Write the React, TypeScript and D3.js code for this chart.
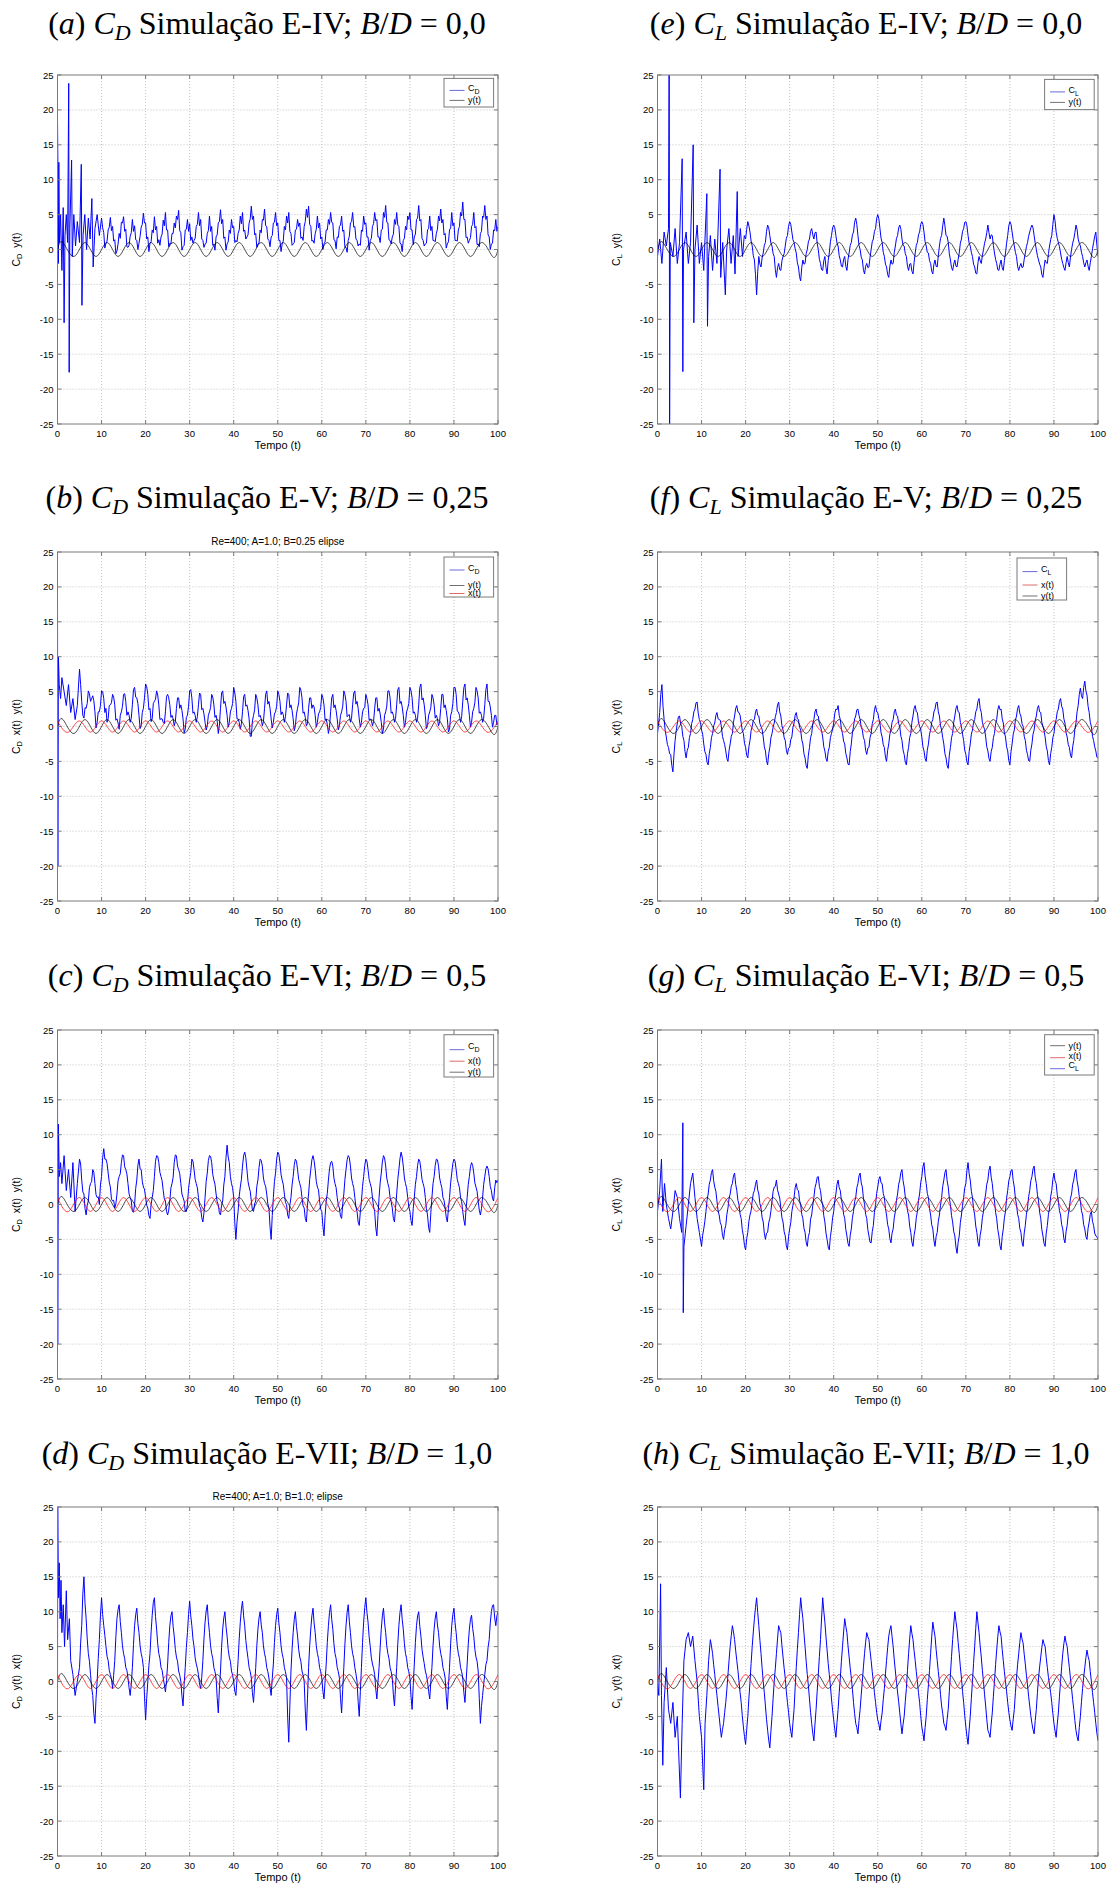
import React from 'react';
import * as d3 from 'd3';

// ---------------- DATA ----------------
const xTickValues = [0, 10, 20, 30, 40, 50, 60, 70, 80, 90, 100];
const yTickValues = [-25, -20, -15, -10, -5, 0, 5, 10, 15, 20, 25];

// motion extrema (read from the sinusoids)
const yMotionT = [0, 1.25, 3.75, 6.25, 8.75, 11.25, 13.75, 16.25, 18.75, 21.25, 23.75, 26.25, 28.75, 31.25, 33.75, 36.25, 38.75, 41.25, 43.75, 46.25, 48.75, 51.25, 53.75, 56.25, 58.75, 61.25, 63.75, 66.25, 68.75, 71.25, 73.75, 76.25, 78.75, 81.25, 83.75, 86.25, 88.75, 91.25, 93.75, 96.25, 98.75, 100];
const yMotion = [0, 1, -1, 1, -1, 1, -1, 1, -1, 1, -1, 1, -1, 1, -1, 1, -1, 1, -1, 1, -1, 1, -1, 1, -1, 1, -1, 1, -1, 1, -1, 1, -1, 1, -1, 1, -1, 1, -1, 1, -1, 0];
const xMotionT = [0, 2.5, 5, 7.5, 10, 12.5, 15, 17.5, 20, 22.5, 25, 27.5, 30, 32.5, 35, 37.5, 40, 42.5, 45, 47.5, 50, 52.5, 55, 57.5, 60, 62.5, 65, 67.5, 70, 72.5, 75, 77.5, 80, 82.5, 85, 87.5, 90, 92.5, 95, 97.5, 100];
const xMotionSmall = [0.8, -0.8, 0.8, -0.8, 0.8, -0.8, 0.8, -0.8, 0.8, -0.8, 0.8, -0.8, 0.8, -0.8, 0.8, -0.8, 0.8, -0.8, 0.8, -0.8, 0.8, -0.8, 0.8, -0.8, 0.8, -0.8, 0.8, -0.8, 0.8, -0.8, 0.8, -0.8, 0.8, -0.8, 0.8, -0.8, 0.8, -0.8, 0.8, -0.8, 0.8];
const xMotionLarge = [1, -1, 1, -1, 1, -1, 1, -1, 1, -1, 1, -1, 1, -1, 1, -1, 1, -1, 1, -1, 1, -1, 1, -1, 1, -1, 1, -1, 1, -1, 1, -1, 1, -1, 1, -1, 1, -1, 1, -1, 1];

// (a) C_D E-IV  (samples every 0.25 from t = 10)
const cdATransient = [[0, 18.5], [0.1, 11], [0.2, -2], [0.3, 12.5], [0.45, 1], [0.7, 5], [1, -3], [1.3, 6], [1.5, -10.5], [1.7, 2], [2, 5], [2.3, 1], [2.55, 23.8], [2.65, -17.6], [2.8, 3], [3.2, 12.8], [3.35, -1], [3.7, 5], [4.1, 0.5], [4.5, 4], [5, 1], [5.4, 12.2], [5.55, -8], [5.8, 2], [6.2, 5], [6.6, 0], [7, 4.5], [7.4, 1.5], [7.8, 7.3], [8.1, -2.5], [8.5, 3], [9, 5], [9.5, 2]];
const cdAStart = 10;
const cdA = [
  4.5, 3.1, 2.4, 0.2, 0.9, 1.2, 2.8, 3.2, 4.6, 2.7, 3.3, 1.2, 1.4, -0.6, -0.2, 0.8, 2.3, 1.6, 3.9, 3.8,
  4.7, 2.6, 2.9, 0.4, 0.3, 0.6, 1.9, 2.4, 4.3, 2.6, 3.4, 1.4, 1.3, 0.0, 0.9, 1.9, 3.2, 3.6, 5.2, 3.8,
  3.8, 1.5, 1.8, -0.3, 0.9, 1.1, 2.8, 2.4, 4.7, 2.8, 3.3, 0.9, 1.4, 0.6, 1.8, 2.2, 4.2, 3.4, 5.3, 2.8,
  2.8, 0.4, 0.9, 0.8, 2.3, 2.3, 3.8, 3.1, 4.8, 4.3, 5.6, 2.7, 2.4, -0.1, 0.4, 0.6, 2.8, 2.9, 4.3, 2.6,
  3.7, 1.3, 1.8, 0.9, 1.3, 1.6, 3.3, 3.6, 5.3, 3.4, 4.3, 1.5, 1.3, 0.3, 0.8, 0.9, 2.3, 2.7, 4.8, 2.6,
  3.3, 0.6, 0.8, -0.1, 1.8, 2.1, 3.8, 4.0, 5.7, 3.7, 4.3, 1.6, 1.8, -0.1, 0.8, 1.1, 2.8, 2.3, 4.3, 3.1,
  3.3, 1.0, 1.3, 1.1, 2.3, 2.8, 4.8, 3.7, 5.3, 2.6, 2.8, 1.5, 1.8, 2.1, 3.8, 4.4, 6.2, 4.3, 4.8, 2.1,
  2.3, 0.3, 0.8, 0.9, 2.8, 2.4, 4.3, 4.2, 5.8, 3.4, 3.3, 1.5, 1.3, 0.4, 1.8, 2.0, 3.8, 3.9, 5.3, 3.4,
  3.8, 1.3, 1.3, -0.3, 0.8, 1.2, 3.3, 2.8, 4.8, 3.8, 5.3, 2.6, 2.3, 0.6, 0.8, 1.0, 2.8, 2.9, 4.3, 3.3,
  3.8, 1.6, 1.8, 1.3, 3.3, 4.0, 5.8, 4.6, 6.2, 3.6, 3.3, 1.2, 1.3, 0.9, 2.3, 2.9, 4.8, 3.1, 3.8, 1.5,
  1.8, 0.0, 0.8, 1.1, 2.8, 2.8, 4.3, 3.6, 5.3, 3.9, 3.8, 1.4, 1.3, 0.1, 1.8, 1.7, 3.3, 3.5, 4.8, 2.6,
  2.8, 0.3, 0.3, -0.4, 1.3, 1.9, 3.8, 4.0, 5.3, 3.2, 3.3, 1.5, 1.3, 0.5, 0.8, 0.6, 2.8, 2.6, 4.8, 3.6,
  3.8, 1.8, 1.8, -0.1, 1.3, 1.6, 3.3, 3.7, 5.3, 4.1, 4.3, 1.8, 1.8, 1.0, 2.8, 2.9, 5.3, 4.6, 6.3, 3.9,
  3.8, 1.4, 1.3, 0.8, 1.8, 2.2, 4.3, 3.6, 5.3, 3.5, 3.3, 0.9, 0.8, -0.3, 1.3, 1.6, 3.3, 2.8, 4.8, 4.3,
  5.3, 2.8, 2.8, 0.7, 1.8, 2.2, 4.3, 4.5, 6.3, 4.1, 4.3, 1.6, 1.3, 0.5, 0.8, 0.9, 2.8, 3.0, 4.8, 2.7,
  3.3, 1.3, 1.3, 1.1, 2.3, 2.9, 4.8, 4.1, 5.8, 3.8, 4.3, 2.1, 2.3, 0.2, 0.8, 1.1, 2.8, 3.1, 5.3, 3.4,
  3.8, 1.3, 1.3, 1.2, 2.8, 3.3, 5.3, 4.8, 6.8, 4.3, 4.3, 1.7, 1.8, 0.9, 1.3, 1.7, 3.3, 3.6, 5.3, 3.1,
  3.3, 0.7, 0.8, 0.4, 2.3, 2.6, 4.8, 4.6, 6.3, 4.3, 4.8, 2.1, 1.8, 0.0, 0.8, 0.9, 2.8, 2.7, 4.3, 2.6,
  3.3];

// (b) C_D E-V (samples every 0.25 from t = 5)
const cdBTransient = [[0, 18.5], [0.08, -20], [0.2, 10], [0.4, 6], [0.7, 4], [1, 7], [1.5, 5], [2, 3], [2.5, 6], [3, 2], [3.5, 4], [4, 1], [4.5, 3]];
const cdBStart = 5;
const cdB = [
  8.2, 6.0, 3.6, 1.6, 1.2, 2.7, 2.6, 3.3, 5.1, 4.7, 3.6, 4.0, 4.4, 3.7, 2.1, -0.2, 0.6, 2.1, 2.1, 3.0,
  5.1, 5.0, 4.0, 2.0, 2.6, 0.6, 1.1, 3.0, 3.1, 3.4, 4.6, 4.2, 3.1, 0.9, 1.1, 0.5, -0.4, 1.6, 2.1, 2.9,
  4.6, 4.7, 3.6, 1.6, 2.1, 1.6, 0.6, 1.2, 3.1, 5.3, 5.6, 4.2, 4.1, 3.3, 1.6, -0.3, 0.1, 2.0, 2.6, 4.1,
  6.1, 5.7, 4.6, 2.4, 2.6, 0.7, 1.1, 3.3, 3.6, 3.9, 5.1, 4.5, 3.1, 1.0, 1.1, 1.1, 0.6, 0.4, 2.1, 4.3,
  4.6, 4.1, 3.1, 1.3, 1.6, 1.1, 0.1, 0.7, 2.6, 4.1, 4.1, 2.6, 3.1, 2.3, 1.1, -0.9, -0.4, 1.3, 1.6, 2.9,
  5.1, 5.3, 4.1, 1.9, 2.1, 1.6, 0.6, 1.4, 3.1, 4.8, 4.6, 2.4, 2.6, 1.8, 0.6, -0.5, 0.1, 1.6, 2.1, 2.7,
  4.6, 4.2, 3.1, 1.3, 1.6, 0.8, -1.0, 0.2, 2.6, 4.8, 5.1, 3.3, 3.6, 2.8, 1.6, -0.1, 0.6, 2.1, 2.6, 3.3,
  5.6, 4.8, 3.6, 1.1, 1.1, 0.6, -0.4, 0.4, 2.1, 4.3, 4.6, 2.9, 3.1, 2.3, 1.1, -1.4, -1.4, 0.8, 1.6, 2.4,
  4.6, 4.1, 3.1, 1.4, 1.6, 1.1, 0.1, 0.7, 2.6, 4.6, 5.1, 3.2, 3.6, 2.6, 1.1, -0.2, 0.6, 1.8, 2.1, 2.9,
  5.1, 4.6, 3.6, 1.7, 2.1, 1.7, 0.6, 1.4, 3.1, 4.8, 4.6, 2.7, 3.1, 2.3, 1.1, -0.6, 0.1, 1.8, 2.6, 3.4,
  5.6, 5.2, 4.1, 1.9, 2.1, 1.3, 0.1, 0.4, 2.6, 4.1, 4.1, 2.6, 3.1, 2.8, 1.6, -0.1, 0.6, 1.8, 2.1, 2.7,
  4.6, 4.1, 3.1, 0.9, 1.1, 0.3, -1.0, -0.1, 2.1, 4.1, 4.6, 2.7, 3.1, 2.3, 1.1, -0.5, 0.1, 1.6, 2.1, 2.9,
  5.1, 4.6, 3.6, 1.4, 1.6, 1.7, 0.6, 1.2, 3.1, 4.8, 5.1, 3.2, 3.6, 2.6, 1.1, -0.1, 0.6, 2.1, 2.6, 2.7,
  4.6, 4.0, 3.1, 0.9, 1.1, 0.9, 0.1, 0.7, 2.6, 4.1, 4.1, 2.2, 2.6, 1.8, 0.6, -1.0, -0.4, 1.6, 2.1, 2.9,
  5.1, 5.1, 4.1, 1.9, 2.1, 1.6, 0.6, 1.2, 3.1, 5.3, 5.6, 3.3, 3.6, 2.8, 1.6, -0.1, 0.6, 2.1, 2.6, 3.3,
  5.6, 5.1, 4.1, 1.9, 2.1, 1.6, 0.6, 1.2, 3.1, 5.6, 6.1, 3.8, 4.1, 3.1, 1.6, -0.3, 0.1, 1.6, 2.1, 2.7,
  4.6, 4.1, 3.1, 1.2, 1.6, 1.1, 0.1, 0.7, 2.6, 4.6, 4.6, 2.7, 3.1, 2.3, 1.1, -0.8, -0.4, 1.6, 2.1, 3.3,
  5.6, 5.6, 4.6, 2.2, 2.1, 1.6, 0.6, 1.4, 3.6, 5.6, 6.1, 3.8, 4.1, 3.1, 1.6, -0.1, 0.6, 2.1, 2.6, 3.4,
  5.6, 5.1, 4.1, 1.9, 2.1, 1.6, 0.6, 1.2, 3.1, 5.3, 6.1, 3.6, 3.6, 2.8, 1.6, -0.1, 0.6, 1.6, 1.6, 0.2,
  0.6];

// (c) C_D E-VI (samples every 0.25 from t = 5)
const cdCTransient = [[0, 23], [0.05, -20], [0.2, 11.5], [0.4, 4], [0.7, 6], [1, 3], [1.5, 7], [2, 2], [2.5, 5], [3, 1], [3.5, 6], [4, -1], [4.5, 3]];
const cdCStart = 5;
const cdC = [
  6.5, 5.8, 3.5, 1.8, 1.5, -0.6, -1.5, -0.1, 0.5, 2.4, 3.0, 3.3, 5.0, 4.6, 3.0, 1.4, 1.0, 1.1, 0.0, 2.8,
  4.0, 6.7, 8.0, 6.5, 6.5, 5.9, 4.5, 3.2, 2.5, 0.8, 0.5, 0.6, -0.5, 0.1, 1.5, 3.4, 4.0, 4.4, 6.0, 7.1,
  7.0, 5.4, 5.0, 4.4, 3.0, 1.5, 1.0, 0.5, -1.0, -1.1, 0.0, 2.3, 3.5, 5.6, 6.5, 5.1, 5.0, 3.3, 2.5, 2.2,
  1.0, -0.1, -0.5, -1.6, -2.0, 0.0, 1.0, 2.0, 4.0, 6.2, 7.0, 6.9, 6.0, 4.6, 4.0, 3.4, 2.0, 0.8, 0.5, -1.0,
  -1.5, -0.8, 0.5, 2.4, 3.0, 3.9, 6.0, 7.1, 7.0, 5.5, 5.0, 4.4, 3.0, 1.5, 1.0, 0.5, -1.0, -1.0, 0.0, 2.3,
  3.5, 4.6, 6.5, 6.2, 5.0, 3.6, 3.0, 2.4, 1.0, -0.3, -0.5, -1.9, -2.5, -1.2, 1.0, 3.3, 4.5, 6.3, 7.0, 6.9,
  6.0, 4.3, 3.5, 2.9, 1.5, 0.4, 0.0, -1.2, -1.5, -0.1, 0.5, 2.8, 4.0, 6.7, 8.5, 6.8, 6.0, 4.0, 3.0, 2.4,
  1.0, -2.6, -5.0, -2.5, -1.0, 1.2, 2.5, 3.6, 5.5, 7.0, 7.5, 6.7, 5.0, 3.3, 2.5, 1.9, 0.5, -0.8, -1.0, 0.1,
  0.5, 2.6, 3.5, 5.3, 6.5, 6.3, 5.5, 3.8, 3.0, 2.6, 1.5, 0.1, -0.5, -3.2, -5.0, -1.6, 1.0, 3.3, 4.5, 6.5,
  7.5, 7.2, 6.0, 4.3, 3.5, 2.9, 1.5, 0.3, 0.0, -1.5, -2.0, -0.1, 1.0, 2.8, 4.0, 5.7, 6.5, 6.2, 5.0, 3.6,
  3.0, 2.4, 1.0, -0.2, -0.5, -2.0, -2.5, -0.1, 1.5, 3.6, 5.0, 6.4, 7.0, 6.3, 5.0, 3.3, 2.5, 2.1, 0.5, -0.7,
  -1.0, -3.1, -4.5, -1.6, 0.5, 1.6, 3.5, 5.1, 6.0, 6.2, 5.5, 3.8, 3.0, 2.4, 1.0, -0.1, -0.5, -1.7, -2.0, 0.1,
  1.5, 3.6, 5.0, 6.4, 7.0, 6.7, 5.5, 3.8, 3.0, 2.4, 1.0, -0.4, -1.0, -2.5, -3.0, -1.0, 0.5, 2.6, 4.0, 5.6,
  6.5, 6.2, 5.0, 3.6, 3.0, 2.4, 1.0, -0.3, -1.0, -3.3, -4.5, -1.6, 1.0, 3.1, 4.5, 6.1, 7.0, 6.7, 5.5, 3.8,
  3.0, 2.4, 1.0, 0.4, -0.5, -2.0, -2.5, -0.4, 1.5, 3.6, 5.0, 6.6, 7.5, 6.8, 5.5, 3.8, 3.0, 2.4, 1.0, -0.3,
  -1.0, -2.3, -3.0, -0.6, 1.0, 2.9, 4.0, 5.6, 6.5, 6.2, 5.0, 3.6, 3.0, 2.4, 1.0, -0.6, -1.5, -3.3, -4.0, -1.2,
  1.0, 3.0, 4.0, 5.6, 6.5, 6.4, 5.5, 3.8, 3.0, 2.4, 1.0, 0.6, -0.5, -1.8, -2.5, -0.6, 1.0, 3.1, 4.5, 5.9,
  6.5, 6.2, 5.0, 3.6, 3.0, 2.4, 1.0, 0.4, -1.0, -2.2, -3.0, -0.6, 1.0, 2.9, 4.0, 5.4, 6.0, 5.6, 4.5, 3.1,
  2.5, 1.9, 0.5, -0.8, -1.5, -0.6, 1.0, 2.9, 4.0, 5.1, 5.5, 5.1, 4.0, 2.6, 2.0, 0.9, 0.5, 2.4, 3.5, 3.1,
  3.5];

// (d) C_D E-VII (samples every 0.25 from t = 5)
const cdDTransient = [[0, 0], [0.05, 25], [0.2, 12], [0.4, 17], [0.6, 9], [0.8, 14.5], [1, 7], [1.3, 11], [1.6, 5], [2, 13], [2.3, 6], [2.7, 9], [3, 3], [3.5, 1], [4, -2], [4.5, 0]];
const cdDStart = 5;
const cdD = [
  2.0, 5.5, 8.0, 12.6, 15.0, 11.2, 9.0, 6.1, 4.0, 2.9, 1.0, -0.9, -2.0, -4.6, -6.0, -2.4, 0.0, 3.3, 6.0, 9.4,
  12.0, 9.6, 8.0, 6.6, 5.0, 3.6, 3.0, 1.6, 1.0, 0.4, -1.0, 0.9, 3.0, 6.4, 9.0, 10.3, 11.0, 8.6, 7.0, 5.1,
  4.0, 3.3, 2.0, 1.6, 0.5, -0.9, -2.0, -0.4, 2.0, 5.3, 8.0, 9.6, 10.5, 8.3, 7.0, 5.1, 4.0, 3.3, 2.0, -2.1,
  -5.5, -2.4, 0.0, 2.3, 4.0, 7.1, 9.5, 11.3, 12.0, 9.3, 7.5, 5.4, 4.0, 3.3, 2.0, 1.6, 0.5, -0.4, -1.5, 0.1,
  2.5, 5.6, 8.0, 9.4, 10.0, 7.9, 6.5, 4.6, 3.5, 2.9, 1.5, 0.9, 0.0, -2.1, -3.5, -0.4, 2.0, 4.9, 7.0, 9.6,
  11.5, 9.4, 8.0, 6.1, 5.0, 3.4, 2.5, 1.9, 1.0, -0.4, -1.0, 0.6, 3.0, 6.1, 8.5, 10.1, 11.0, 8.6, 7.0, 5.1,
  4.0, 3.3, 2.0, 1.4, 0.5, -2.3, -4.5, -1.1, 1.5, 4.9, 7.5, 9.1, 10.0, 7.9, 6.5, 4.6, 3.5, 2.9, 1.5, 0.9,
  0.0, -1.4, -2.0, 0.4, 3.0, 6.1, 8.5, 10.4, 11.5, 9.4, 8.0, 5.9, 4.5, 3.3, 2.0, 1.4, 0.5, -1.6, -3.0, -0.6,
  2.0, 5.1, 7.5, 9.1, 10.0, 8.1, 7.0, 5.1, 4.0, 3.3, 2.0, 1.4, 0.5, -0.9, -2.0, 0.4, 2.5, 5.6, 8.0, 9.6,
  10.5, 8.4, 7.0, 5.1, 4.0, 3.3, 2.0, 1.4, 0.5, -5.1, -8.7, -3.4, 1.5, 4.6, 7.0, 8.9, 10.0, 7.9, 6.5, 4.6,
  3.5, 2.9, 1.5, 0.9, 0.0, -4.1, -7.0, -2.4, 2.0, 5.1, 7.5, 9.4, 10.5, 8.4, 7.0, 5.1, 4.0, 3.3, 2.0, 1.4,
  0.5, -1.4, -2.5, 0.1, 2.5, 5.6, 8.0, 9.9, 11.0, 8.9, 7.5, 5.4, 4.0, 3.3, 2.0, 1.4, 0.5, -2.4, -4.5, -1.1,
  2.0, 5.4, 8.0, 9.9, 11.0, 8.6, 7.0, 5.1, 4.0, 3.3, 2.0, 1.1, 0.0, -2.9, -5.0, -1.4, 2.0, 5.6, 8.5, 10.6,
  12.0, 9.9, 8.5, 6.4, 5.0, 3.4, 2.5, 1.9, 1.0, -1.1, -2.5, -0.1, 2.0, 4.9, 7.5, 9.4, 10.5, 8.4, 7.0, 5.1,
  4.0, 3.3, 2.0, 1.4, 0.5, -1.9, -3.5, -0.6, 2.0, 5.4, 8.0, 9.9, 11.0, 8.9, 7.5, 5.4, 4.0, 3.3, 2.0, 1.4,
  0.5, -2.1, -4.0, -0.6, 2.5, 5.6, 8.0, 9.4, 10.0, 7.9, 6.5, 4.6, 3.5, 2.6, 1.5, 0.9, 0.0, -1.4, -2.5, -0.1,
  2.0, 5.1, 7.5, 9.1, 10.0, 8.1, 7.0, 5.1, 4.0, 3.3, 2.0, 1.4, 0.5, -2.1, -4.0, -0.6, 2.0, 5.4, 8.0, 9.6,
  10.5, 8.4, 7.0, 5.1, 4.0, 3.3, 2.0, 1.4, 0.5, -1.6, -3.0, -0.1, 2.5, 5.4, 7.5, 8.9, 9.5, 7.6, 6.5, 4.6,
  3.5, 2.9, 1.5, -2.4, -6.0, -3.6, -2.0, -0.4, 1.0, 2.4, 3.0, 4.9, 6.0, 8.4, 10.0, 10.9, 11.0, 9.1, 8.0, 9.4,
  10.0];

// (e) C_L E-IV (samples every 0.25 from t = 20)
const clETransient = [[0, -1], [0.5, 1.5], [1, -2], [1.5, 2.5], [2, 0.5], [2.5, 3], [2.65, 30], [2.75, -25], [2.9, 1], [3.5, -1], [4, 3], [4.5, -2], [5, 1], [5.6, 13], [5.75, -17.5], [5.9, 0], [6.5, 2.5], [7, -2], [7.5, 1], [8.1, 15], [8.25, -10.5], [8.5, 0], [9, 3.5], [9.5, -2], [10, 1], [10.5, -3], [11.2, 8], [11.35, -11], [11.6, -1], [12, 2], [12.5, -3], [13, 1.5], [13.5, -2], [14.2, 11.5], [14.35, -4], [14.8, 1], [15.4, -6.5], [15.7, 0], [16.2, 3], [16.7, -2], [17.2, 2], [17.6, -3.5], [18.1, 8.3], [18.3, -1], [18.8, 3], [19.3, -1], [19.7, 2]];
const clEStart = 20;
const clE = [
  1.5, 2.9, 4.0, 3.4, 2.5, 1.2, 0.5, -0.9, -1.5, -3.6, -6.5, -3.2, -1.0, -2.1, -2.5, -1.2, -0.5, 0.6, 1.0, 2.6,
  3.5, 3.1, 2.0, 0.9, 0.5, -0.6, -1.0, -2.9, -4.0, -2.6, -2.0, -2.9, -3.0, -1.6, -1.0, -0.6, 0.5, 1.6, 2.0, 3.3,
  4.0, 3.6, 2.5, 1.4, 1.0, 0.1, -0.5, -1.9, -2.5, -3.9, -4.5, -2.6, -1.5, -2.1, -2.0, -0.6, 0.0, 1.1, 1.5, 2.6,
  3.0, 2.1, 1.5, 2.4, 2.5, 0.9, 0.0, -1.4, -2.0, -2.9, -3.0, -1.6, -1.0, -2.6, -3.5, -1.6, -0.5, 1.1, 2.0, 3.1,
  3.5, 3.1, 2.0, 0.9, 0.5, -0.9, -1.5, -2.4, -2.5, -1.4, -1.0, -2.4, -3.0, -1.4, -0.5, 0.6, 1.0, 2.1, 2.5, 3.9,
  4.5, 3.6, 2.0, 0.6, 0.0, -1.1, -1.5, -2.9, -3.5, -2.4, -2.0, -2.6, -2.5, -1.1, 0.0, 1.1, 1.5, 2.6, 3.0, 4.4,
  5.0, 4.4, 3.0, 1.6, 1.0, -0.4, -1.0, -2.1, -2.5, -3.6, -4.0, -2.4, -1.5, -2.1, -2.0, -0.4, 0.5, 1.6, 2.0, 3.1,
  3.5, 2.9, 1.5, 0.6, 0.5, -0.6, -1.0, -2.4, -3.0, -2.1, -2.0, -3.1, -3.5, -1.9, -0.5, 0.6, 1.0, 2.1, 2.5, 3.6,
  4.0, 3.6, 2.5, 1.1, 0.5, -0.4, -0.5, -1.6, -2.0, -3.1, -3.5, -2.1, -1.5, -2.4, -2.5, -0.9, 0.5, 1.6, 2.0, 3.4,
  4.5, 3.4, 2.0, 1.9, 1.0, -0.6, -1.5, -2.6, -3.0, -2.1, -1.5, -2.4, -2.5, -1.4, -0.5, 0.9, 1.5, 2.6, 3.0, 3.9,
  4.0, 3.4, 2.0, 0.9, 0.5, -0.4, -1.0, -2.1, -2.5, -3.4, -3.5, -1.9, -1.0, -1.6, -2.0, -0.9, 0.0, 0.9, 1.5, 2.4,
  3.5, 2.4, 1.5, 2.1, 2.0, 0.6, -0.5, -1.4, -2.0, -2.9, -3.0, -2.1, -1.5, -2.6, -3.0, -1.6, -0.5, 0.9, 2.0, 3.4,
  4.0, 3.6, 2.5, 1.4, 0.5, -0.4, -1.0, -2.4, -3.0, -2.4, -2.0, -2.6, -2.5, -1.4, -0.5, 0.4, 1.0, 1.9, 2.5, 3.1,
  3.5, 3.1, 2.0, 0.9, 0.0, -0.9, -1.5, -2.1, -2.5, -3.6, -4.0, -2.6, -1.5, -1.9, -2.0, -0.6, 0.5, 1.4, 2.0, 3.6,
  5.0, 4.1, 2.5, 1.6, 1.0, 0.4, -0.5, -1.4, -2.0, -2.6, -3.0, -1.9, -1.0, -1.9, -2.5, -1.1, 0.0, 0.9, 1.5, 2.4,
  3.5, 2.9, 1.5, 0.9, 0.5, -0.4, -1.0, -1.9, -2.5, -1.9, -1.5, -2.4, -3.0, -1.9, -1.0, 0.1, 1.0, 1.9, 2.5, 0.6,
  -1.0];

// (f) C_L E-V (samples every 0.25 from t = 0)
const clFTransient: number[][] = [];
const clFStart = 0;
const clF = [
  -1.0, 0.4, 2.0, 4.6, 6.0, 2.9, 1.0, -0.6, -1.5, -2.6, -3.0, -3.9, -4.0, -5.6, -6.5, -3.9, -2.0, -0.6, 0.5, 1.4,
  1.5, 0.4, 0.0, -1.4, -2.0, -3.6, -4.5, -3.4, -3.0, -1.6, -1.0, 0.4, 1.0, 2.1, 2.5, 3.4, 3.5, 1.9, 1.0, 0.6,
  -0.5, -1.1, -2.5, -3.6, -4.0, -5.1, -5.5, -3.9, -3.0, -1.6, -1.0, 0.1, 0.5, 1.6, 2.0, 1.1, 1.0, 0.9, 0.0, -1.4,
  -2.0, -2.6, -3.5, -4.6, -5.0, -3.4, -2.5, -1.4, -1.0, 0.6, 1.5, 2.6, 3.0, 2.1, 2.0, 1.6, 0.5, -0.6, -1.0, -2.4,
  -3.0, -4.1, -4.5, -2.9, -2.0, -0.6, 0.0, 0.9, 1.0, 2.1, 2.5, 1.6, 1.5, 0.4, 0.0, -0.4, -1.5, -2.9, -3.5, -4.9,
  -5.5, -3.9, -3.0, -1.6, -1.0, -0.1, 0.5, 1.4, 2.0, 3.1, 3.5, 2.1, 1.5, 0.1, -0.5, -1.6, -2.0, -3.4, -4.0, -3.1,
  -3.0, -1.9, -1.5, -0.1, 0.5, 1.6, 2.0, 1.1, 1.0, -0.1, -0.5, -1.9, -2.5, -3.9, -4.5, -5.6, -6.0, -4.1, -3.0, -1.6,
  -1.0, 0.4, 1.0, 2.1, 2.5, 1.6, 1.5, 0.4, 0.0, -0.6, -1.5, -2.9, -3.5, -4.6, -5.0, -3.6, -3.0, -1.6, -1.0, -0.4,
  0.5, 1.9, 2.5, 2.4, 3.0, 1.6, 1.0, -0.4, -1.0, -2.1, -2.5, -3.9, -4.5, -5.4, -5.5, -3.6, -2.5, -0.9, 0.0, 1.1,
  1.5, 2.4, 2.5, 1.6, 1.0, -0.1, -0.5, -1.6, -2.0, -3.4, -4.0, -3.1, -3.0, -1.6, -1.0, 0.4, 1.0, 2.4, 3.0, 2.1,
  2.0, 1.1, 0.5, -0.9, -1.5, -2.6, -3.0, -4.4, -5.0, -3.4, -2.5, -1.1, -0.5, 0.6, 1.0, 2.1, 2.5, 1.6, 1.5, 0.4,
  0.0, -1.4, -2.0, -3.4, -4.0, -5.1, -5.5, -3.9, -3.0, -1.6, -1.0, 0.6, 1.5, 2.6, 3.0, 2.1, 2.0, 0.6, 0.0, -0.4,
  -1.5, -2.9, -3.5, -4.6, -5.0, -3.4, -2.5, -1.1, -0.5, 0.6, 1.0, 2.1, 2.5, 3.4, 3.5, 2.1, 1.5, 0.1, -0.5, -1.6,
  -2.5, -3.9, -4.5, -5.6, -6.0, -4.1, -3.0, -1.6, -1.0, 0.6, 1.5, 2.6, 3.0, 2.1, 2.0, 0.6, 0.0, -1.1, -2.0, -3.4,
  -4.0, -5.1, -5.5, -3.6, -2.5, -1.1, -0.5, 0.6, 1.0, 2.1, 2.5, 3.6, 4.0, 2.6, 2.0, 0.6, 0.0, -0.4, -1.5, -2.9,
  -3.5, -4.6, -5.0, -3.6, -3.0, -1.6, -1.0, 0.4, 1.0, 2.4, 3.0, 2.4, 2.5, 1.1, 0.5, -0.9, -1.5, -2.9, -3.5, -4.9,
  -5.5, -3.6, -2.5, -1.1, -0.5, 0.9, 1.5, 2.6, 3.0, 1.9, 1.5, 0.4, 0.0, -1.4, -2.0, -3.4, -4.0, -4.9, -5.0, -3.4,
  -2.5, -1.1, -0.5, 0.9, 1.5, 2.6, 3.0, 2.1, 2.0, 0.6, 0.0, -0.6, -1.5, -2.9, -3.5, -4.9, -5.5, -3.9, -3.0, -1.6,
  -1.0, 0.4, 1.0, 2.1, 2.5, 3.6, 4.0, 2.9, 2.5, 1.1, 0.5, -0.9, -1.5, -2.6, -3.0, -4.1, -4.5, -2.9, -2.0, -0.4,
  0.5, 2.1, 3.0, 4.6, 5.5, 4.4, 4.0, 5.6, 6.5, 5.1, 4.5, 2.9, 2.0, 0.6, 0.0, -1.4, -2.0, -2.9, -3.5, -4.4,
  -4.5];

// (g) C_L E-VI (samples every 0.25 from t = 10)
const clGTransient = [[0, -1], [0.5, 2], [0.9, 6.5], [1.2, -1], [1.6, 3], [2, 0], [2.5, -2], [3, -3.5], [3.5, -1], [4, 2], [4.5, 1], [5, -2], [5.5, -4], [5.75, 11.7], [5.85, -15.5], [6, -6], [6.5, -3], [7, 0], [7.5, 3], [8, 4.5], [8.5, 1], [9, -2], [9.5, -4]];
const clGStart = 10;
const clG = [
  -6.0, -4.4, -3.5, -2.4, -1.0, 0.6, 1.5, 2.9, 3.5, 4.6, 5.0, 3.4, 2.5, 1.9, 0.5, -0.9, -1.5, -2.6, -3.0, -4.4,
  -5.0, -3.6, -3.0, -1.4, -0.5, 0.9, 1.5, 2.6, 3.0, 4.1, 4.5, 2.9, 2.0, 0.6, 0.0, -1.4, -2.0, -3.6, -4.5, -5.9,
  -6.5, -4.9, -4.0, -2.4, -1.5, -0.9, 0.5, 1.6, 2.0, 2.9, 3.5, 2.1, 1.5, 0.1, -0.5, -1.9, -2.5, -4.1, -5.0, -4.1,
  -4.0, -2.6, -2.0, -0.9, 0.5, 1.9, 2.5, 2.6, 3.5, 2.1, 1.5, 0.9, -0.5, -1.9, -2.5, -3.9, -4.5, -5.9, -6.5, -4.6,
  -3.5, -2.6, -1.0, -0.1, 1.0, 2.4, 3.0, 2.1, 2.0, 0.6, 0.0, -1.4, -2.0, -3.4, -4.0, -5.4, -6.0, -4.6, -4.0, -2.1,
  -1.5, -0.1, 1.0, 2.4, 3.0, 3.9, 4.0, 2.6, 2.0, 0.6, 0.0, -1.6, -2.5, -4.1, -5.0, -6.1, -6.5, -4.6, -3.5, -1.9,
  -1.0, 0.6, 1.5, 2.9, 3.5, 2.4, 2.0, 0.6, 0.0, -1.4, -2.0, -3.6, -4.5, -5.6, -6.0, -4.4, -3.5, -1.9, -1.0, 0.4,
  1.0, 2.4, 3.0, 4.1, 4.5, 3.1, 2.5, 0.9, 0.0, -1.4, -2.0, -3.6, -4.5, -5.4, -5.5, -3.9, -3.0, -1.1, 0.0, 1.6,
  2.5, 3.6, 4.0, 3.1, 3.0, 1.6, 1.0, -0.6, -1.5, -2.9, -3.5, -4.9, -5.5, -4.1, -3.5, -1.9, -1.0, 0.6, 1.5, 2.9,
  3.5, 4.6, 5.0, 3.4, 2.5, 1.1, 0.5, -0.9, -1.5, -3.1, -4.0, -5.4, -6.0, -4.4, -3.5, -1.9, -1.0, 0.6, 1.5, 3.1,
  4.0, 5.4, 6.0, 4.1, 3.0, 1.6, 1.0, -0.6, -1.5, -2.9, -3.5, -5.1, -6.0, -4.6, -4.0, -2.4, -1.5, -0.1, 1.0, 2.6,
  3.5, 4.6, 5.0, 3.4, 2.5, 0.9, 0.0, -1.6, -2.5, -3.9, -4.5, -6.1, -7.0, -5.4, -4.5, -2.6, -1.5, -0.1, 1.0, 2.4,
  3.0, 4.9, 6.0, 4.4, 3.5, 1.9, 1.0, -0.6, -1.5, -3.1, -4.0, -5.4, -6.0, -4.4, -3.5, -1.9, -1.0, 0.6, 1.5, 2.9,
  3.5, 4.9, 5.5, 3.9, 3.0, 1.4, 0.5, -1.1, -2.0, -3.6, -4.5, -5.9, -6.5, -4.6, -3.5, -1.9, -1.0, 0.9, 2.0, 3.4,
  4.0, 4.9, 5.0, 3.4, 2.5, 0.9, 0.0, -1.4, -2.0, -3.4, -4.0, -5.4, -6.0, -4.1, -3.0, -1.4, -0.5, 1.1, 2.0, 3.4,
  4.0, 5.1, 5.5, 3.9, 3.0, 1.4, 0.5, -1.1, -2.0, -3.6, -4.5, -5.6, -6.0, -4.1, -3.0, -1.4, -0.5, 1.1, 2.0, 3.6,
  4.5, 3.4, 3.0, 1.4, 0.5, -0.9, -1.5, -2.9, -3.5, -4.9, -5.5, -3.9, -3.0, -1.4, -0.5, 0.9, 1.5, 2.9, 3.5, 4.6,
  5.0, 3.4, 2.5, 1.1, 0.5, -0.9, -1.5, -2.9, -3.5, -4.6, -5.0, -3.4, -2.5, -1.4, -1.0, -2.4, -3.0, -4.1, -4.5, -4.6,
  -5.0];

// (h) C_L E-VII (samples every 0.25 from t = 12)
const clHTransient = [[0, 0], [0.3, -2], [0.7, 14], [0.9, -2], [1.2, -12], [1.5, -3], [2, 2], [2.5, -4], [3, -6], [3.5, -3], [4, -8], [4.5, -5], [5.2, -16.7], [5.6, -6], [6, 3], [6.5, 6], [7, 7], [7.5, 5], [8, 6.5], [8.5, 3], [9, 0], [9.5, -5], [10, -8], [10.5, -15.5], [10.8, -6], [11.2, -2], [11.6, 3]];
const clHStart = 12;
const clH = [
  6.0, 5.1, 4.0, 2.4, 1.0, -0.6, -2.0, -3.6, -5.0, -6.6, -8.0, -6.9, -6.0, -4.4, -3.0, -1.1, 1.0, 3.1, 5.0, 6.6,
  8.0, 7.1, 6.0, 4.4, 3.0, 1.6, 0.0, -1.6, -3.0, -4.9, -6.5, -7.9, -9.0, -6.9, -5.0, -2.4, 0.0, 2.6, 5.0, 7.1,
  9.0, 10.6, 12.0, 9.9, 8.0, 5.9, 4.0, 1.9, 0.0, -1.6, -3.5, -5.4, -7.0, -8.4, -9.5, -7.1, -5.0, -2.4, 0.0, 1.9,
  4.0, 6.1, 8.0, 7.4, 7.0, 5.1, 3.5, 1.9, 0.5, -1.4, -3.0, -4.4, -6.0, -7.1, -8.0, -5.9, -4.0, -0.9, 2.0, 4.6,
  7.0, 9.6, 12.0, 10.4, 9.0, 6.9, 5.0, 2.9, 1.0, -0.6, -2.5, -4.4, -6.0, -7.4, -8.5, -6.1, -4.0, -1.4, 1.0, 3.6,
  6.0, 9.1, 12.0, 10.1, 8.5, 6.4, 4.5, 2.6, 1.0, -0.6, -2.5, -4.1, -5.5, -6.9, -8.0, -5.9, -4.0, -1.6, 0.5, 2.9,
  5.0, 7.1, 9.0, 7.9, 7.0, 5.1, 3.5, 1.9, 0.5, -1.1, -3.0, -4.6, -6.0, -6.6, -7.5, -5.6, -4.0, -1.9, 0.0, 2.1,
  4.0, 5.6, 7.0, 6.4, 6.0, 4.4, 3.0, 1.4, 0.0, -1.6, -3.0, -4.4, -5.5, -6.1, -7.0, -5.6, -4.5, -2.6, -1.0, 1.1,
  3.0, 4.9, 6.5, 7.4, 8.0, 6.4, 5.0, 3.1, 1.5, -0.1, -1.5, -2.9, -4.5, -6.1, -7.5, -6.1, -5.0, -2.9, -1.0, 1.6,
  4.0, 6.1, 8.0, 6.9, 6.0, 4.4, 3.0, 1.4, 0.0, -1.6, -3.0, -4.9, -6.5, -7.4, -8.5, -6.6, -5.0, -2.6, -0.5, 1.6,
  4.0, 6.4, 8.5, 7.4, 6.5, 4.6, 3.0, 1.4, 0.0, -1.9, -3.5, -4.6, -6.0, -6.4, -7.0, -5.4, -4.0, -1.4, 1.0, 3.6,
  6.0, 8.1, 10.0, 8.6, 7.5, 5.6, 4.0, 2.1, 0.5, -1.4, -3.0, -4.9, -6.5, -7.9, -9.0, -6.9, -5.0, -2.4, 0.0, 2.6,
  5.0, 7.6, 10.0, 8.4, 7.0, 5.1, 3.5, 1.6, 0.0, -1.9, -3.5, -5.4, -7.0, -7.4, -8.0, -6.1, -4.5, -2.1, 0.0, 2.4,
  4.5, 6.4, 8.0, 7.1, 6.5, 4.6, 3.0, 1.4, 0.0, -1.4, -3.0, -4.4, -5.5, -6.4, -7.0, -5.4, -4.0, -1.6, 0.5, 2.4,
  4.0, 5.6, 7.0, 6.1, 5.5, 3.9, 2.5, 0.9, -0.5, -2.1, -3.5, -4.9, -6.0, -6.9, -7.5, -5.6, -4.0, -1.6, 0.5, 2.1,
  3.5, 4.9, 6.0, 5.4, 5.0, 3.4, 2.0, 0.6, -0.5, -1.6, -3.0, -4.6, -6.0, -7.1, -8.0, -6.1, -4.5, -2.1, 0.0, 2.1,
  4.0, 5.4, 6.5, 5.6, 5.0, 3.4, 2.0, 0.4, -1.0, -2.6, -4.0, -5.6, -7.0, -7.9, -8.5, -6.6, -5.0, -2.9, -1.0, 0.6,
  2.0, 3.4, 4.5, 3.6, 3.0, 1.4, 0.0, -1.6, -3.0, -4.4, -6.0, -7.4, -8.5];

// ---------------- LAYOUT ----------------
const PW = 440.5;
const PH = 349;
const COLX = [57.5, 657.5];
const ROWY = [75, 552, 1030, 1507];
const TITLE_Y = [34, 508, 986, 1464];
const TITLE_X = [267, 866];
const SAMPLE_STEP = 0.25;

const BLUE = '#0000ff';
const RED = '#ff0000';
const BLACK = '#000000';

type Row = { k: 'c' | 'x' | 'y'; t: number; l: number };
type Legend = { left: number; top: number; h: number; rows: Row[] } | null;

type PanelCfg = {
  id: string; col: number; row: number; coef: string; sim: string; bd: string;
  yLabel: string; subtitle: string | null;
  trans: number[][]; start: number; reg: number[];
  xAmp: number[] | null; legend: Legend;
};

const PANELS: PanelCfg[] = [
  { id: 'a', col: 0, row: 0, coef: 'D', sim: 'E-IV', bd: '0,0', yLabel: '  y(t)', subtitle: null, trans: cdATransient, start: cdAStart, reg: cdA, xAmp: null,
    legend: { left: 444, top: 3.4, h: 28.6, rows: [{ k: 'c', t: 9.5, l: 12 }, { k: 'y', t: 22, l: 22 }] } },
  { id: 'b', col: 0, row: 1, coef: 'D', sim: 'E-V', bd: '0,25', yLabel: '  x(t)  y(t)', subtitle: 'Re=400; A=1.0; B=0.25 elipse', trans: cdBTransient, start: cdBStart, reg: cdB, xAmp: xMotionSmall,
    legend: { left: 444, top: 5, h: 40, rows: [{ k: 'c', t: 10.5, l: 13 }, { k: 'y', t: 27.5, l: 28.5 }, { k: 'x', t: 35.5, l: 36.5 }] } },
  { id: 'c', col: 0, row: 2, coef: 'D', sim: 'E-VI', bd: '0,5', yLabel: '  x(t)  y(t)', subtitle: null, trans: cdCTransient, start: cdCStart, reg: cdC, xAmp: xMotionLarge,
    legend: { left: 444, top: 4.7, h: 42.3, rows: [{ k: 'c', t: 11, l: 15 }, { k: 'x', t: 26.5, l: 26.5 }, { k: 'y', t: 37.5, l: 37.5 }] } },
  { id: 'd', col: 0, row: 3, coef: 'D', sim: 'E-VII', bd: '1,0', yLabel: '  y(t)  x(t)', subtitle: 'Re=400; A=1.0; B=1.0; elipse', trans: cdDTransient, start: cdDStart, reg: cdD, xAmp: xMotionLarge, legend: null },
  { id: 'e', col: 1, row: 0, coef: 'L', sim: 'E-IV', bd: '0,0', yLabel: '  y(t)', subtitle: null, trans: clETransient, start: clEStart, reg: clE, xAmp: null,
    legend: { left: 1044.6, top: 4.4, h: 30.2, rows: [{ k: 'c', t: 10.5, l: 12.5 }, { k: 'y', t: 23, l: 23 }] } },
  { id: 'f', col: 1, row: 1, coef: 'L', sim: 'E-V', bd: '0,25', yLabel: '  x(t)  y(t)', subtitle: null, trans: clFTransient, start: clFStart, reg: clF, xAmp: xMotionSmall,
    legend: { left: 1017, top: 6, h: 42, rows: [{ k: 'c', t: 11, l: 13.6 }, { k: 'x', t: 27, l: 27 }, { k: 'y', t: 38, l: 38 }] } },
  { id: 'g', col: 1, row: 2, coef: 'L', sim: 'E-VI', bd: '0,5', yLabel: '  y(t)  x(t)', subtitle: null, trans: clGTransient, start: clGStart, reg: clG, xAmp: xMotionLarge,
    legend: { left: 1044.6, top: 4.7, h: 40.3, rows: [{ k: 'y', t: 11, l: 11 }, { k: 'x', t: 21.5, l: 23 }, { k: 'c', t: 30.5, l: 34 }] } },
  { id: 'h', col: 1, row: 3, coef: 'L', sim: 'E-VII', bd: '1,0', yLabel: '  y(t)  x(t)', subtitle: null, trans: clHTransient, start: clHStart, reg: clH, xAmp: xMotionLarge, legend: null },
];

const SANS = 'Liberation Sans, Arial, Helvetica, sans-serif';
const SERIF = 'Liberation Serif, Times New Roman, serif';

function Panel({ p }: { p: PanelCfg }) {
  const x0 = COLX[p.col];
  const y0 = ROWY[p.row];
  const x = d3.scaleLinear().domain([0, 100]).range([x0, x0 + PW]);
  const y = d3.scaleLinear().domain([-25, 25]).range([y0 + PH, y0]);

  const pts: [number, number][] = (p.trans as [number, number][])
    .map(([t, v]) => [t, v] as [number, number])
    .concat(p.reg.map((v, i) => [p.start + i * SAMPLE_STEP, v] as [number, number]));
  pts.sort((a, b) => a[0] - b[0]);

  const line = d3.line<[number, number]>().x(d => x(d[0])).y(d => y(d[1]));
  const smooth = d3.line<[number, number]>().x(d => x(d[0])).y(d => y(d[1])).curve(d3.curveNatural);
  const yPts = yMotionT.map((t, i) => [t, yMotion[i]] as [number, number]);
  const xPts = p.xAmp ? xMotionT.map((t, i) => [t, p.xAmp![i]] as [number, number]) : null;

  const clipId = `clip-${p.id}`;

  return (
    <g>
      <defs>
        <clipPath id={clipId}>
          <rect x={x0} y={y0} width={PW} height={PH} />
        </clipPath>
      </defs>
      <rect x={x0} y={y0} width={PW} height={PH} fill="#fff" />
      {xTickValues.filter(v => v > 0 && v < 100).map(v => (
        <line key={'gx' + v} x1={x(v)} x2={x(v)} y1={y0} y2={y0 + PH} stroke="#b4b4b4" strokeWidth={0.8} strokeDasharray="1,2" />
      ))}
      {yTickValues.filter(v => v > -25 && v < 25).map(v => (
        <line key={'gy' + v} x1={x0} x2={x0 + PW} y1={y(v)} y2={y(v)} stroke="#b4b4b4" strokeWidth={0.8} strokeDasharray="1,2" />
      ))}
      <g clipPath={`url(#${clipId})`}>
        <path d={line(pts) || ''} fill="none" stroke={BLUE} strokeWidth={1} strokeLinejoin="round" />
        <path d={smooth(yPts) || ''} fill="none" stroke={BLACK} strokeWidth={0.7} />
        {xPts && <path d={smooth(xPts) || ''} fill="none" stroke={RED} strokeWidth={0.7} />}
      </g>
      <rect x={x0} y={y0} width={PW} height={PH} fill="none" stroke="#7a7a7a" strokeWidth={1} />
      {xTickValues.map(v => (
        <g key={'tx' + v}>
          <line x1={x(v)} x2={x(v)} y1={y0 + PH} y2={y0 + PH - 4} stroke="#7a7a7a" />
          <line x1={x(v)} x2={x(v)} y1={y0} y2={y0 + 4} stroke="#7a7a7a" />
          <text x={x(v)} y={y0 + PH + 9} textAnchor="middle" dominantBaseline="central" fontFamily={SANS} fontSize={9.5} fill="#000">{v}</text>
        </g>
      ))}
      {yTickValues.map(v => (
        <g key={'ty' + v}>
          <line x1={x0} x2={x0 + 4} y1={y(v)} y2={y(v)} stroke="#7a7a7a" />
          <line x1={x0 + PW} x2={x0 + PW - 4} y1={y(v)} y2={y(v)} stroke="#7a7a7a" />
          <text x={x0 - 4} y={y(v)} textAnchor="end" dominantBaseline="central" fontFamily={SANS} fontSize={9.5} fill="#000">{v}</text>
        </g>
      ))}
      <text x={x0 + PW / 2} y={y0 + PH + 21} textAnchor="middle" dominantBaseline="central" fontFamily={SANS} fontSize={11} fill="#000">Tempo (t)</text>
      <text transform={`translate(${x0 - 38},${y0 + PH / 2}) rotate(-90)`} textAnchor="middle" fontFamily={SANS} fontSize={10.5} fill="#000" style={{ whiteSpace: 'pre' }}>
        <tspan>C</tspan><tspan fontSize={7.5} dy={2.5}>{p.coef}</tspan><tspan dy={-2.5}>{p.yLabel}</tspan>
      </text>
      {p.subtitle && (
        <text x={x0 + PW / 2} y={y0 - 11} textAnchor="middle" dominantBaseline="central" fontFamily={SANS} fontSize={10} fill="#000">{p.subtitle}</text>
      )}
      <text x={TITLE_X[p.col]} y={TITLE_Y[p.row]} textAnchor="middle" fontFamily={SERIF} fontSize={32} fill="#000" style={{ whiteSpace: 'pre' }}>
        <tspan>(</tspan><tspan fontStyle="italic">{p.id}</tspan><tspan>) </tspan>
        <tspan fontStyle="italic">C</tspan><tspan fontStyle="italic" fontSize={22} dy={6}>{p.coef}</tspan>
        <tspan dy={-6}>{' Simulação ' + p.sim + '; '}</tspan>
        <tspan fontStyle="italic">B</tspan><tspan>/</tspan><tspan fontStyle="italic">D</tspan>
        <tspan>{' = ' + p.bd}</tspan>
      </text>
      {p.legend && (
        <g>
          <rect x={p.legend.left} y={y0 + p.legend.top} width={49.6} height={p.legend.h} fill="#fff" stroke="#7a7a7a" strokeWidth={1} />
          {p.legend.rows.map((r, i) => (
            <g key={i}>
              <line x1={p.legend!.left + 5.5} x2={p.legend!.left + 20.5} y1={y0 + p.legend!.top + r.l} y2={y0 + p.legend!.top + r.l}
                stroke={r.k === 'c' ? '#6a6ae0' : r.k === 'x' ? '#e06a6a' : '#707070'} strokeWidth={1} />
              <text x={p.legend!.left + 24} y={y0 + p.legend!.top + r.t} dominantBaseline="central" fontFamily={SANS} fontSize={9} fill="#000" style={{ whiteSpace: 'pre' }}>
                {r.k === 'c' ? (<><tspan>C</tspan><tspan fontSize={7} dy={3}>{p.coef}</tspan></>) : r.k === 'x' ? 'x(t)' : 'y(t)'}
              </text>
            </g>
          ))}
        </g>
      )}
    </g>
  );
}

export default function App() {
  return (
    <svg width={1112} height={1884} viewBox="0 0 1112 1884" style={{ position: 'absolute', left: 0, top: 0, background: '#fff' }}>
      <rect x={0} y={0} width={1112} height={1884} fill="#fff" />
      {PANELS.map(p => <Panel key={p.id} p={p} />)}
    </svg>
  );
}
